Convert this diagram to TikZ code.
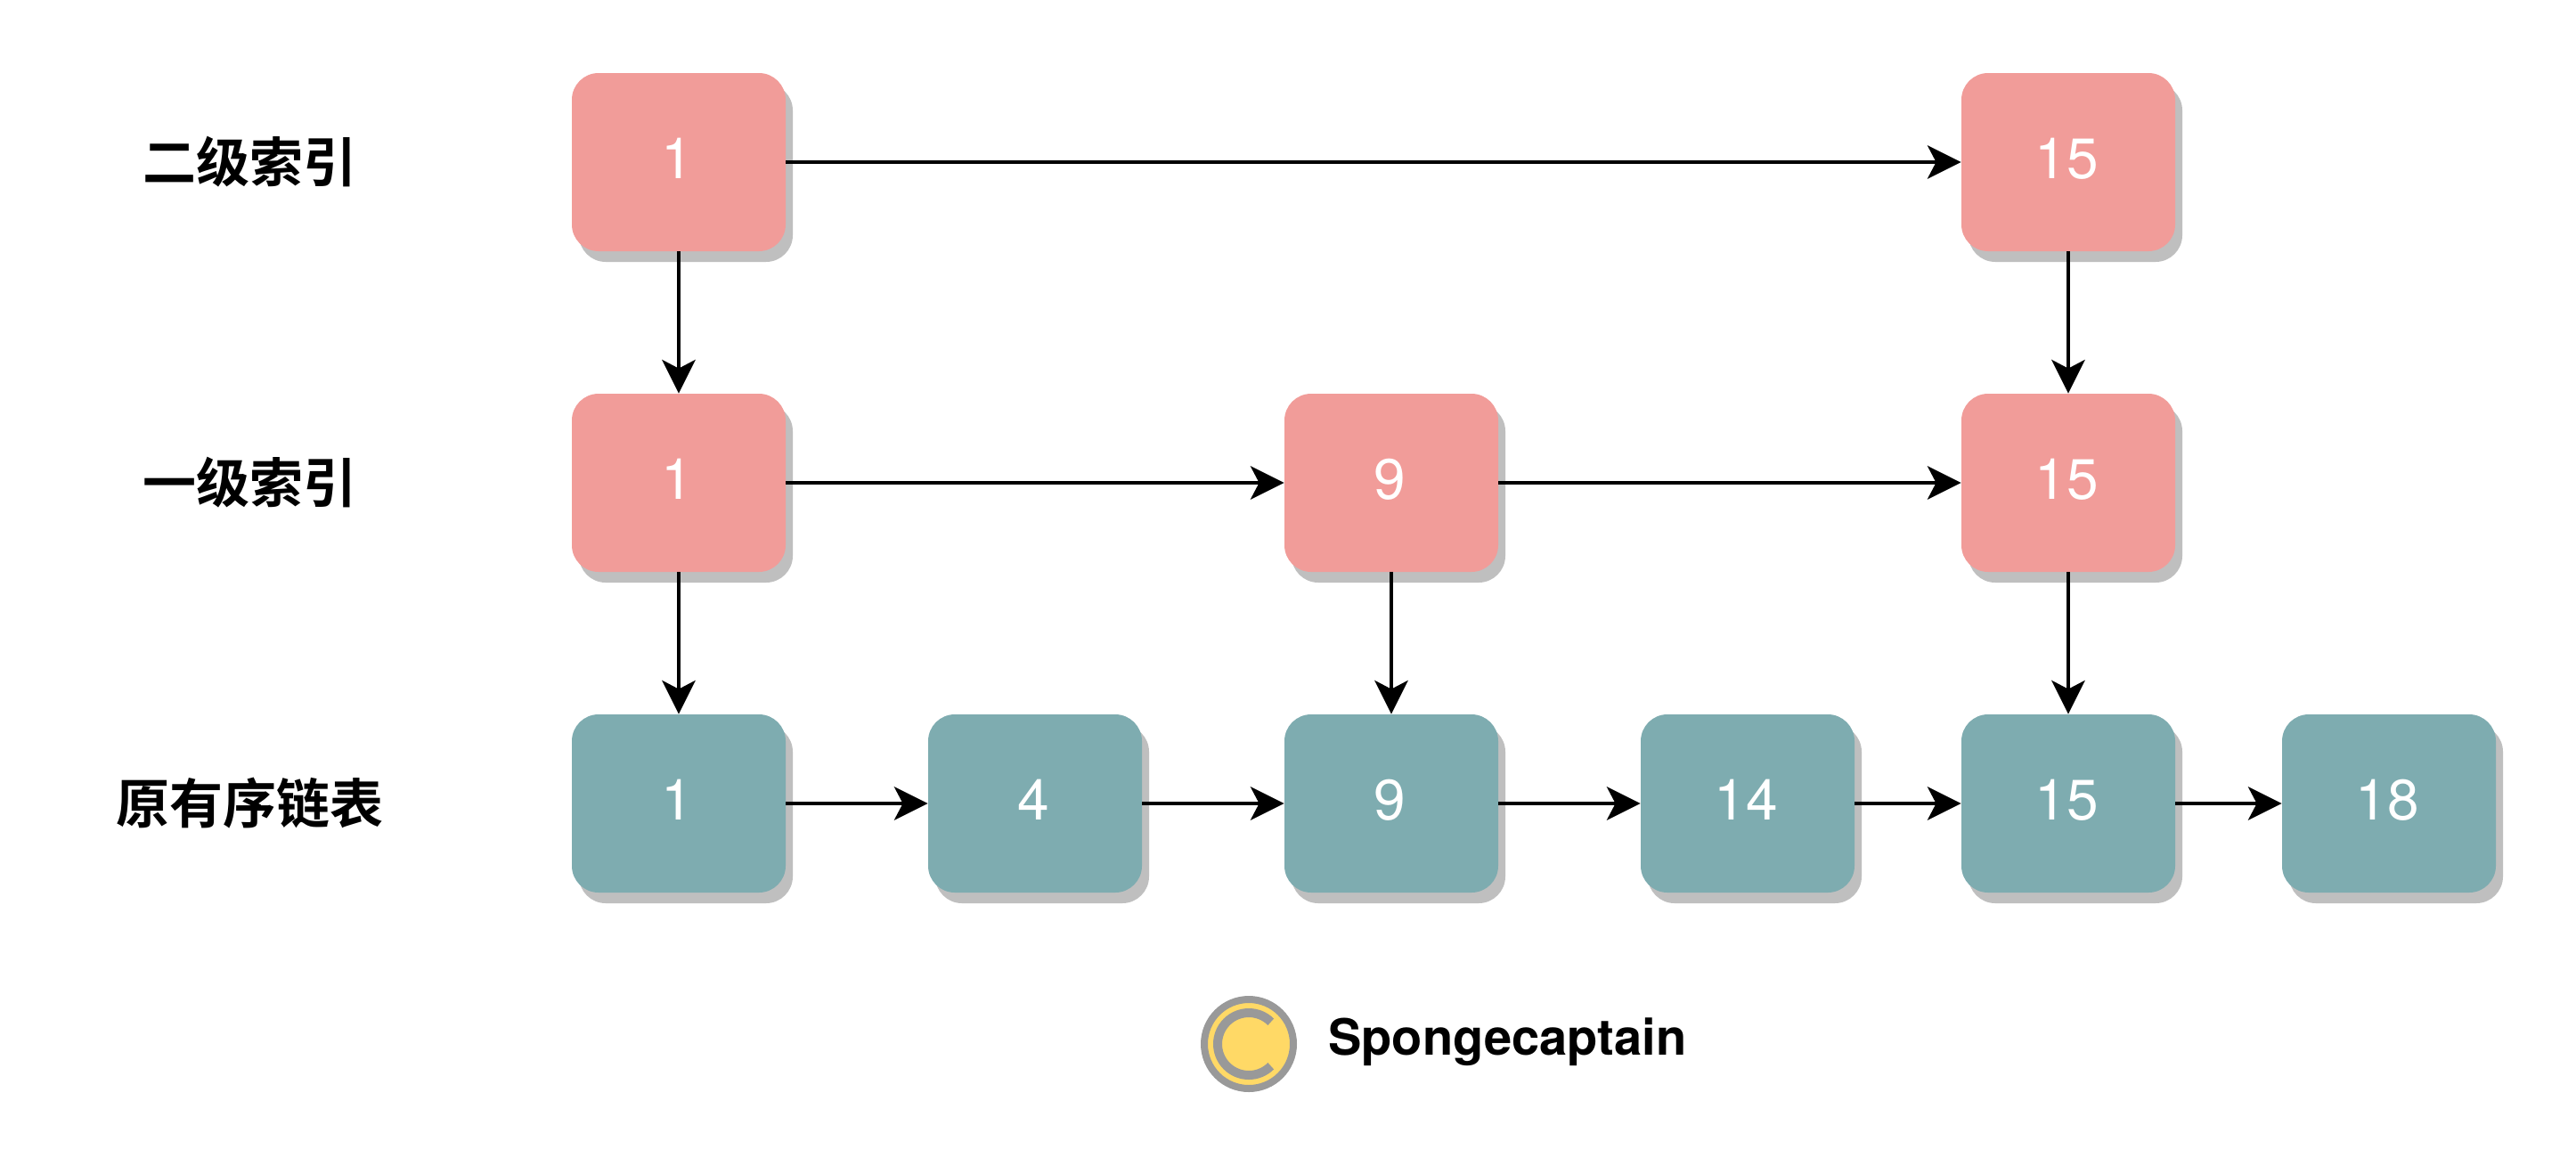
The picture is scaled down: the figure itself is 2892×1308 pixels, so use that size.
\documentclass[tikz,border=0pt]{standalone}
\usepackage{fontspec}
\setmainfont{TeX Gyre Heros}
\newfontfamily\cjk{Noto Sans CJK SC}[BoldFont={* Bold}]
\usetikzlibrary{arrows.meta}
\definecolor{redbox}{HTML}{F19C99}
\definecolor{tealbox}{HTML}{7EACB0}
\definecolor{shadowc}{HTML}{BFBFBF}
\definecolor{coinfill}{HTML}{FFD966}
\definecolor{coinline}{HTML}{999999}
\tikzset{
  x=0.5pt,y=-0.5pt,
  cell/.style={minimum width=120pt,minimum height=100pt,rounded corners=15pt,inner sep=0pt,text=white,
    font=\fontsize{32}{32}\selectfont},
  redcell/.style={cell,fill=redbox},
  tealcell/.style={cell,fill=tealbox},
  shadebox/.style={minimum width=120pt,minimum height=100pt,rounded corners=15pt,fill=shadowc,inner sep=0pt},
  link/.style={draw=black,line width=2pt,-{Stealth[length=19pt,width=19pt,inset=5pt,line width=0pt]}},
  rowlabel/.style={font=\cjk\bfseries\fontsize{30}{30}\selectfont,inner sep=0pt},
}
\newcommand{\cellat}[5]{%
  \node[shadebox] (#1s) at (#2+8,#3+12) {};
  \node[#5] (#1) at (#2,#3) {\hspace*{-2pt}\raisebox{4.5pt}{#4}};
}
\begin{document}
\begin{tikzpicture}
\useasboundingbox (0,0) rectangle (2892,1308);
\fill[white] (0,0) rectangle (2892,1308);
\cellat{aone}{762}{182}{1}{redcell}
\cellat{afif}{2322}{182}{15}{redcell}
\cellat{bone}{762}{542}{1}{redcell}
\cellat{bnin}{1562}{542}{9}{redcell}
\cellat{bfif}{2322}{542}{15}{redcell}
\cellat{cone}{762}{902}{1}{tealcell}
\cellat{cfou}{1162}{902}{4}{tealcell}
\cellat{cnin}{1562}{902}{9}{tealcell}
\cellat{cfot}{1962}{902}{14}{tealcell}
\cellat{cfif}{2322}{902}{15}{tealcell}
\cellat{ceig}{2682}{902}{18}{tealcell}
\draw[link] (aone.east) -- (afif.west);
\draw[link] (bone.east) -- (bnin.west);
\draw[link] (bnin.east) -- (bfif.west);
\draw[link] (cone.east) -- (cfou.west);
\draw[link] (cfou.east) -- (cnin.west);
\draw[link] (cnin.east) -- (cfot.west);
\draw[link] (cfot.east) -- (cfif.west);
\draw[link] (cfif.east) -- (ceig.west);
\draw[link] (aone.south) -- (bone.north);
\draw[link] (bone.south) -- (cone.north);
\draw[link] (bnin.south) -- (cnin.north);
\draw[link] (afif.south) -- (bfif.north);
\draw[link] (bfif.south) -- (cfif.north);
\node[rowlabel] (ltwo) at (280,182) {二级索引};
\node[rowlabel] (lone) at (280,542) {一级索引};
\node[rowlabel] (lzero) at (280,902) {原有序链表};
\node[circle,draw=coinline,line width=4pt,fill=coinfill,minimum size=50pt,inner sep=0pt] (coin) at (1402,1172) {};
\draw[coinline,line width=5pt] (coin.center) ++(45:17.5pt) arc [start angle=45,end angle=315,radius=17.5pt];
\node[font=\bfseries\fontsize{28}{28}\selectfont,anchor=base west,inner sep=0pt] (brand) at (1491,1184) {Spongecaptain};
\end{tikzpicture}
\end{document}
